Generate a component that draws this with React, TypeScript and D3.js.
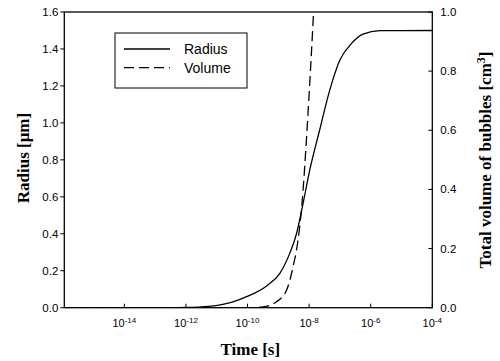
import React from "react";
import * as d3 from "d3";

// time axis values are read as log10(seconds)
const radiusLogTime = [-15.95, -12.5, -12, -11.5, -11.1, -10.5, -10.03, -9.38, -8.95, -8.63, -8.41, -8.25, -7.98, -7.66, -7.33, -7.0, -6.62, -6.25, -5.7, -4];
const radiusValues = [0, 0, 0.001, 0.004, 0.01, 0.03, 0.06, 0.118, 0.186, 0.294, 0.4, 0.52, 0.744, 0.96, 1.177, 1.34, 1.43, 1.48, 1.499, 1.5];

const volumeLogTime = [-15.95, -10, -9.49, -9.06, -8.73, -8.52, -8.36, -8.25, -8.03, -7.86];
const volumeValues = [0, 0, 0.003, 0.02, 0.06, 0.139, 0.229, 0.33, 0.668, 0.99];

const xTickExps = [-14, -12, -10, -8, -6, -4];
const radiusTicks = [0, 0.2, 0.4, 0.6, 0.8, 1.0, 1.2, 1.4, 1.6];
const volumeTicks = [0, 0.2, 0.4, 0.6, 0.8, 1.0];

const legendItems = [
  { name: "Radius", dash: null },
  { name: "Volume", dash: "10,5" },
];

const WIDTH = 500;
const HEIGHT = 361;
const LEFT = 64.3;
const RIGHT = 432.3;
const TOP = 12;
const BOTTOM = 307.7;

const SANS = "Arial, 'Liberation Sans', sans-serif";
const SERIF = "'Times New Roman', 'Liberation Serif', serif";

export default function App() {
  const x = d3.scaleLog().domain([10 ** -15.95, 1e-4]).range([LEFT, RIGHT]);
  const yR = d3.scaleLinear().domain([0, 1.6]).range([BOTTOM, TOP]);
  const yV = d3.scaleLinear().domain([0, 1.0]).range([BOTTOM, TOP]);

  const radiusLine = d3
    .line<number>()
    .x((d, i) => x(10 ** radiusLogTime[i]))
    .y((d) => yR(d))
    .curve(d3.curveMonotoneX);

  const volumeLine = d3
    .line<number>()
    .x((d, i) => x(10 ** volumeLogTime[i]))
    .y((d) => yV(d))
    .curve(d3.curveMonotoneX);

  return (
    <svg
      width={WIDTH}
      height={HEIGHT}
      style={{ position: "absolute", left: 0, top: 0, background: "#fff" }}
    >
      <defs>
        <clipPath id="plot">
          <rect x={LEFT} y={TOP} width={RIGHT - LEFT} height={BOTTOM - TOP} />
        </clipPath>
      </defs>

      {/* curves */}
      <g clipPath="url(#plot)" fill="none" stroke="#000" strokeWidth={1.3}>
        <path d={radiusLine(radiusValues) || ""} />
        <path d={volumeLine(volumeValues) || ""} strokeDasharray="10,5" />
      </g>

      {/* frame */}
      <rect
        x={LEFT}
        y={TOP}
        width={RIGHT - LEFT}
        height={BOTTOM - TOP}
        fill="none"
        stroke="#000"
        strokeWidth={1.3}
      />

      {/* left axis */}
      <g fontFamily={SANS} fontSize={11.5} textAnchor="end">
        {radiusTicks.map((t) => (
          <g key={t}>
            <line x1={LEFT - 4} x2={LEFT} y1={yR(t)} y2={yR(t)} stroke="#000" />
            <text x={LEFT - 6} y={yR(t)} dy="0.35em">
              {d3.format(".1f")(t)}
            </text>
          </g>
        ))}
      </g>

      {/* right axis */}
      <g fontFamily={SANS} fontSize={11.5} textAnchor="start">
        {volumeTicks.map((t) => (
          <g key={t}>
            <line x1={RIGHT - 4} x2={RIGHT} y1={yV(t)} y2={yV(t)} stroke="#000" />
            <text x={RIGHT + 8} y={yV(t)} dy="0.35em">
              {d3.format(".1f")(t)}
            </text>
          </g>
        ))}
      </g>

      {/* bottom axis */}
      <g fontFamily={SANS} fontSize={11} textAnchor="middle">
        {xTickExps.map((e) => (
          <g key={e}>
            <line x1={x(10 ** e)} x2={x(10 ** e)} y1={BOTTOM} y2={BOTTOM - 4} stroke="#000" />
            <text x={x(10 ** e)} y={BOTTOM + 19}>
              10
              <tspan dy={-4} fontSize={8}>
                {e}
              </tspan>
            </text>
          </g>
        ))}
      </g>

      {/* axis titles */}
      <g fontFamily={SERIF} fontWeight="bold" fontSize={17} textAnchor="middle">
        <text x={(LEFT + RIGHT) / 2 + 2} y={355}>
          Time [s]
        </text>
        <text transform="translate(23,158) rotate(-90)" dy="0.35em">
          Radius [μm]
        </text>
        <text transform="translate(485,160) rotate(-90)" dy="0.35em">
          Total volume of bubbles [cm
          <tspan dy={-6} fontSize={12}>
            3
          </tspan>
          <tspan dy={6}>]</tspan>
        </text>
      </g>

      {/* legend */}
      <g>
        <rect x={115} y={33} width={132} height={55} fill="#fff" stroke="#000" strokeWidth={1} />
        {legendItems.map((item, i) => (
          <g key={item.name} transform={`translate(0,${49 + i * 18.7})`}>
            <line
              x1={124}
              x2={170}
              y1={0}
              y2={0}
              stroke="#000"
              strokeWidth={1.3}
              strokeDasharray={item.dash || undefined}
            />
            <text x={184} y={0} dy="0.35em" fontFamily={SANS} fontSize={14}>
              {item.name}
            </text>
          </g>
        ))}
      </g>
    </svg>
  );
}
